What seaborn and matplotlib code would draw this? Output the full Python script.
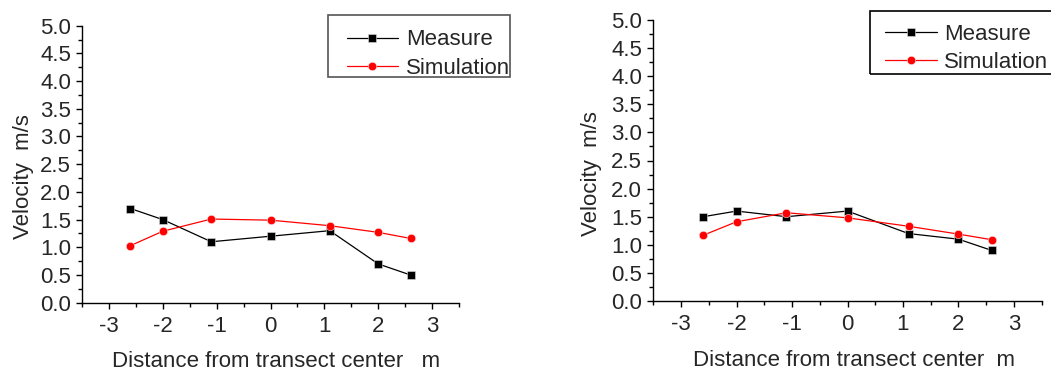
import matplotlib
matplotlib.use("Agg")
import matplotlib.pyplot as plt
from matplotlib.patches import Rectangle
import seaborn as sns
import pandas as pd

# ---- data ----
distance = [-2.6, -2.0, -1.1, 0.0, 1.1, 2.0, 2.6]
measure_left = [1.7, 1.5, 1.1, 1.2, 1.3, 0.7, 0.5]
simulation_left = [1.03, 1.29, 1.51, 1.49, 1.39, 1.27, 1.16]
measure_right = [1.5, 1.6, 1.5, 1.6, 1.2, 1.1, 0.9]
simulation_right = [1.17, 1.41, 1.57, 1.48, 1.33, 1.19, 1.09]
series_labels = ["Measure", "Simulation"]
y_ticks = [0.0, 0.5, 1.0, 1.5, 2.0, 2.5, 3.0, 3.5, 4.0, 4.5, 5.0]
x_ticks = [-3, -2, -1, 0, 1, 2, 3]
ylabel = "Velocity  m/s"
xlabels = ["Distance from transect center   m", "Distance from transect center  m"]

sns.set_style("ticks")
plt.rcParams["font.family"] = ["Liberation Sans", "DejaVu Sans"]
FS = 16

fig = plt.figure(figsize=(10.51, 3.72), dpi=100)
W, H = 1051, 372
ax1 = fig.add_axes([82 / W, 1 - 302.7 / H, (459 - 82) / W, (302.7 - 25.7) / H])
ax2 = fig.add_axes([653.3 / W, 1 - 301 / H, (1041.7 - 653.3) / W, (301 - 20) / H])

# legend layout (pixels): frame box, handle start x, rows centre y
panels = [
    (ax1, measure_left, simulation_left, xlabels[0],
     (328, 15, 182, 62), 346.7, 54.0, "#555555"),
    (ax2, measure_right, simulation_right, xlabels[1],
     (870, 11, 200, 63), 885.0, 48.5, "black"),
]

for ax, meas, sim, xl, frame, hx, rowc, frame_col in panels:
    df_m = pd.DataFrame({"x": distance, "y": meas})
    df_s = pd.DataFrame({"x": distance, "y": sim})
    sns.lineplot(data=df_m, x="x", y="y", ax=ax, color="black", lw=0.9,
                 marker="s", markersize=5.2, markeredgecolor="#dddddd",
                 markeredgewidth=0.4, label=series_labels[0], sort=False)
    sns.lineplot(data=df_s, x="x", y="y", ax=ax, color="red", lw=0.9,
                 marker="o", markersize=6.0, markeredgecolor="#ffdddd",
                 markeredgewidth=0.4, label=series_labels[1], sort=False)
    ax.set_xlim(-3.5, 3.5)
    ax.set_ylim(0, 5)
    ax.set_xticks(x_ticks)
    ax.set_xticklabels([str(t) for t in x_ticks])
    ax.set_yticks(y_ticks)
    ax.set_yticklabels([f"{t:.1f}" for t in y_ticks])
    ax.set_xticks([-3.5, -2.5, -1.5, -0.5, 0.5, 1.5, 2.5, 3.5], minor=True)
    ax.set_yticks([0.25 + 0.5 * i for i in range(10)], minor=True)
    sns.despine(ax=ax)
    for sp in ("left", "bottom"):
        ax.spines[sp].set_linewidth(1.0)
        ax.spines[sp].set_color("black")
    ax.tick_params(axis="both", which="major", direction="out", length=4.5,
                   width=1.0, labelsize=FS, color="black")
    ax.tick_params(axis="both", which="minor", direction="out", length=3,
                   width=1.0, color="black")
    ax.tick_params(axis="y", which="major", pad=3.5)
    ax.tick_params(axis="x", which="major", pad=5)
    ax.set_xlabel(xl, fontsize=FS)
    ax.set_ylabel(ylabel, fontsize=FS)
    ax.xaxis.label.set_va("center")
    ax.yaxis.label.set_va("center")
    ax.grid(False)
    ax.get_legend().remove()
    handles, labels = ax.get_legend_handles_labels()
    ax.legend(handles, labels, loc="center left",
              bbox_to_anchor=(hx / W, 1 - rowc / H),
              bbox_transform=fig.transFigure, borderaxespad=0,
              fontsize=FS, frameon=False,
              handlelength=2.32, handletextpad=0.35, labelspacing=0.32,
              borderpad=0)
    fx, fy, fw, fh = frame
    fig.patches.append(Rectangle((fx / W, 1 - (fy + fh) / H), fw / W, fh / H,
                                 transform=fig.transFigure, fill=False,
                                 edgecolor=frame_col, linewidth=1.2,
                                 clip_on=False))

ax1.xaxis.set_label_coords(0.516, -0.211)
ax1.yaxis.set_label_coords(-0.155, 0.454)
ax2.xaxis.set_label_coords(0.517, -0.21)
ax2.yaxis.set_label_coords(-0.158, 0.455)

fig.savefig("out.png", dpi=100)
